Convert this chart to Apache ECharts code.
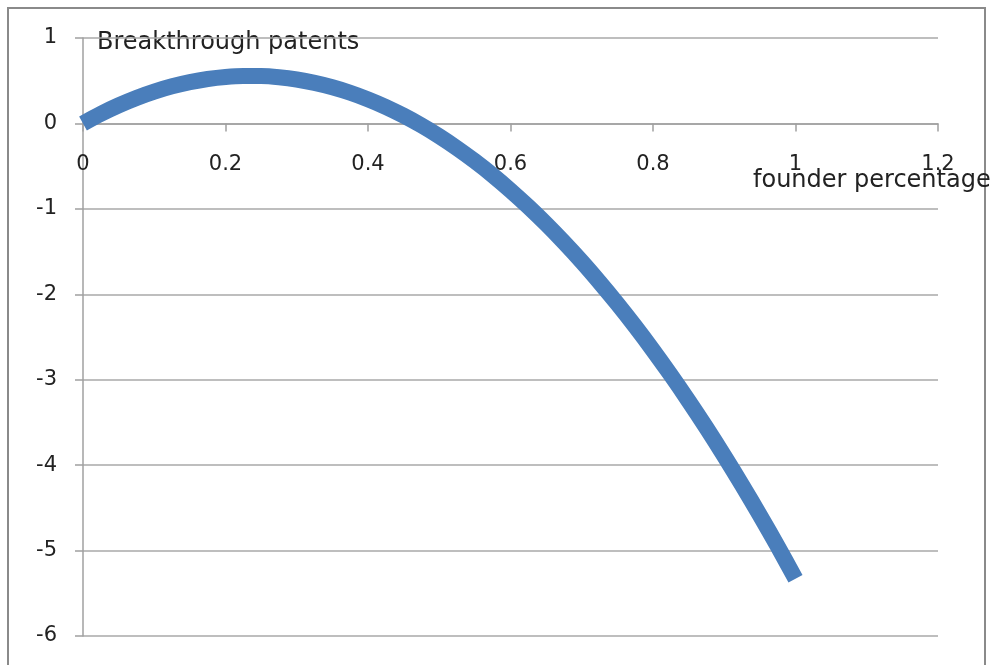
<!DOCTYPE html>
<html><head><meta charset="utf-8">
<script src="https://cdn.jsdelivr.net/npm/echarts@6/dist/echarts.min.js"></script>
<style>html,body{margin:0;padding:0;background:#fff}#c{width:993px;height:665px}</style>
</head><body><div id="c"></div>
<script>
const xValues = [0, 0.025, 0.05, 0.075, 0.1, 0.125, 0.15, 0.175, 0.2, 0.225, 0.25, 0.275, 0.3, 0.325, 0.35, 0.375, 0.4, 0.425, 0.45, 0.475, 0.5,
                 0.525, 0.55, 0.575, 0.6, 0.625, 0.65, 0.675, 0.7, 0.725, 0.75, 0.775, 0.8, 0.825, 0.85, 0.875, 0.9, 0.925, 0.95, 0.975, 1.0];
const yValues = [0, 0.112, 0.211, 0.298, 0.372, 0.434, 0.483, 0.520, 0.544, 0.555, 0.554, 0.540, 0.514, 0.474, 0.423, 0.359, 0.282, 0.193, 0.091, -0.023, -0.150,
                 -0.290, -0.442, -0.606, -0.784, -0.974, -1.176, -1.391, -1.618, -1.859, -2.111, -2.376, -2.654, -2.945, -3.248, -3.563, -3.892, -4.233, -4.586, -4.951, -5.330];
const seriesName = 'Breakthrough patents';
const xAxisName = 'founder percentage';

const font = 'DejaVu Sans';
const fs = 21;
const tfs = 24;
const chart = echarts.init(document.getElementById('c'));
chart.setOption({
  animation: false,
  textStyle: {fontFamily: font},
  grid: {left: 83, right: 55, top: 38, bottom: 29, outerBoundsMode: 'none', containLabel: false},
  graphic: [
    {type: 'rect', shape: {x: 8, y: 8, width: 977, height: 700}, style: {fill: 'none', stroke: '#8a8a8a', lineWidth: 2}, z: -1},
    {type: 'text', left: 97, top: 31, style: {text: seriesName, font: tfs + 'px "DejaVu Sans"', fill: '#222'}},
    {type: 'text', left: 753, top: 169, style: {text: xAxisName, font: tfs + 'px "DejaVu Sans"', fill: '#222'}}
  ],
  xAxis: {
    type: 'value', min: 0, max: 1.2, interval: 0.2,
    position: 'top', offset: -85.43,
    axisLine: {onZero: false, lineStyle: {color: '#a0a0a0', width: 1.5}},
    axisTick: {show: true, inside: true, length: 8, lineStyle: {color: '#a0a0a0', width: 1.5}},
    axisLabel: {inside: true, margin: 31, fontSize: fs, color: '#222', fontFamily: font},
    splitLine: {show: false}
  },
  yAxis: {
    type: 'value', min: -6, max: 1, interval: 1,
    axisLine: {show: true, onZero: false, lineStyle: {color: '#a0a0a0', width: 1.5}},
    axisTick: {show: true, length: 8, lineStyle: {color: '#a0a0a0', width: 1.5}},
    axisLabel: {margin: 26, fontSize: fs, color: '#222', fontFamily: font},
    splitLine: {show: true, lineStyle: {color: '#a8a8a8', width: 1.5}}
  },
  series: [{
    name: seriesName, type: 'line', smooth: 0.3, showSymbol: false,
    data: xValues.map((x, i) => [x, yValues[i]]),
    lineStyle: {color: '#4a7ebb', width: 16, cap: 'butt', join: 'round'}
  }]
});
</script></body></html>
